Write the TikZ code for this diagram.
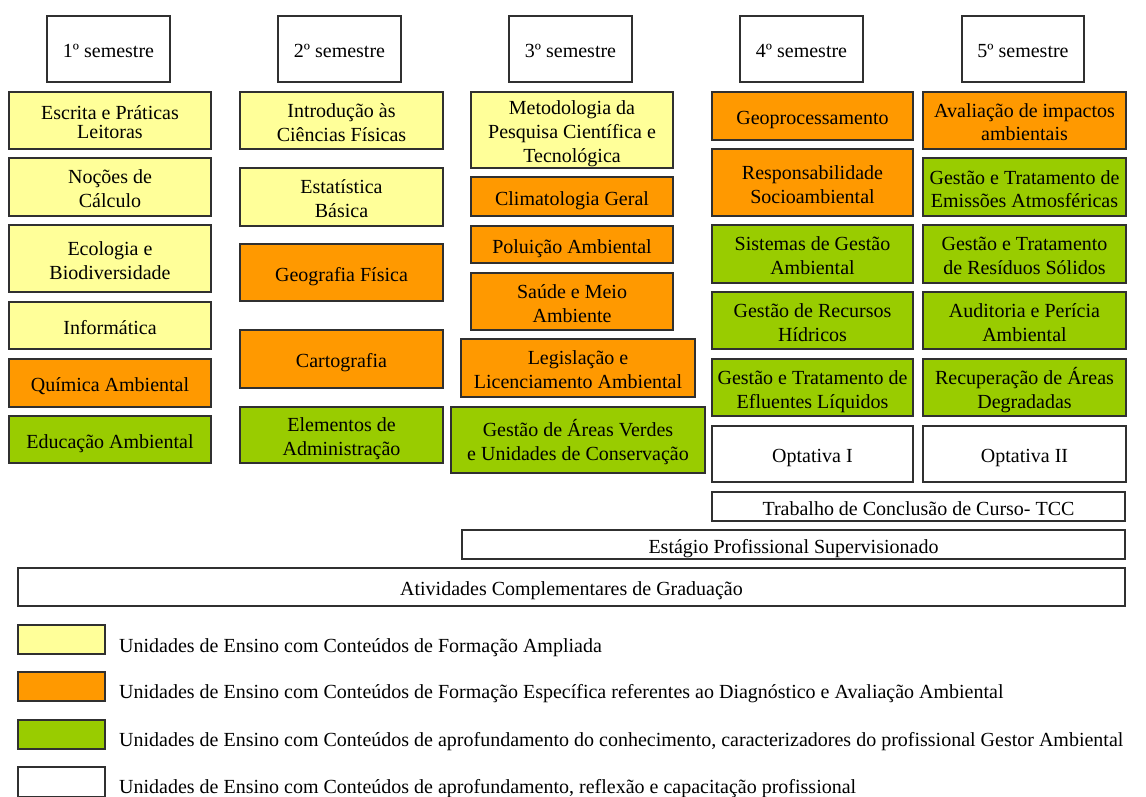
\documentclass[tikz,border=0pt]{standalone}
\usepackage{fontspec}
\setmainfont{Liberation Serif}
\definecolor{cyel}{HTML}{FFFF99}
\definecolor{corg}{HTML}{FF9900}
\definecolor{cgrn}{HTML}{99CC00}
\definecolor{cedge}{HTML}{303030}
\newcommand\bx[7]{\node[box,fill=#6,minimum width={#4-#2},minimum height={#5-#3}] (#1) at ({(#2+#4)/2},{(#3+#5)/2}) {\rule{0pt}{22.5pt}#7\rule[-5pt]{0pt}{5pt}};}
\begin{document}
\begin{tikzpicture}[x=1pt,y=-1pt,
  box/.style={draw=cedge,line width=1.3pt,rectangle,inner sep=0pt,align=center,font=\fontsize{20}{24}\selectfont},
  legtext/.style={anchor=base west,inner sep=0pt,font=\fontsize{20}{24}\selectfont}]
\useasboundingbox[fill=white] (0,0) rectangle (1146,796);
% headers
\bx{h1}{47}{16}{170}{82}{white}{1º semestre}
\bx{h2}{278}{16}{401}{82}{white}{2º semestre}
\bx{h3}{509}{16}{632}{82}{white}{3º semestre}
\bx{h4}{740}{16}{863}{82}{white}{4º semestre}
\bx{h5}{962}{16}{1084}{82}{white}{5º semestre}
% column 1
\bx{a1}{9}{92}{211}{149}{cyel}{Escrita e Práticas\\[-5pt]Leitoras}
\bx{a2}{9}{158}{211}{216}{cyel}{Noções de\\Cálculo}
\bx{a3}{9}{225}{211}{292}{cyel}{Ecologia e\\Biodiversidade}
\bx{a4}{9}{302}{211}{349}{cyel}{Informática}
\bx{a5}{9}{359}{211}{407}{corg}{Química Ambiental}
\bx{a6}{9}{416}{211}{463}{cgrn}{Educação Ambiental}
% column 2
\bx{b1}{240}{92}{443}{149}{cyel}{Introdução às\\Ciências Físicas}
\bx{b2}{240}{168}{443}{226}{cyel}{Estatística\\Básica}
\bx{b3}{240}{244}{443}{301}{corg}{Geografia Física}
\bx{b4}{240}{330}{443}{388}{corg}{Cartografia}
\bx{b5}{240}{407}{443}{463}{cgrn}{Elementos de\\Administração}
% column 3
\bx{c1}{471}{92}{673}{168}{cyel}{Metodologia da\\Pesquisa Científica e\\Tecnológica}
\bx{c2}{471}{177}{673}{216}{corg}{Climatologia Geral}
\bx{c3}{471}{226}{673}{263}{corg}{Poluição Ambiental}
\bx{c4}{471}{273}{673}{330}{corg}{Saúde e Meio\\Ambiente}
\bx{c5}{461}{339}{695}{397}{corg}{Legislação e\\Licenciamento Ambiental}
\bx{c6}{451}{407}{705}{473}{cgrn}{Gestão de Áreas Verdes\\e Unidades de Conservação}
% column 4
\bx{d1}{712}{92}{913}{140}{corg}{Geoprocessamento}
\bx{d2}{712}{149}{913}{216}{corg}{Responsabilidade\\Socioambiental}
\bx{d3}{712}{225}{913}{283}{cgrn}{Sistemas de Gestão\\Ambiental}
\bx{d4}{712}{292}{913}{349}{cgrn}{Gestão de Recursos\\Hídricos}
\bx{d5}{712}{359}{913}{416}{cgrn}{Gestão e Tratamento de\\Efluentes Líquidos}
\bx{d6}{712}{426}{913}{482}{white}{Optativa I}
% column 5
\bx{e1}{923}{92}{1126}{149}{corg}{Avaliação de impactos\\[-1pt]ambientais}
\bx{e2}{923}{158}{1126}{216}{cgrn}{Gestão e Tratamento de\\[-1pt]Emissões Atmosféricas}
\bx{e3}{923}{225}{1126}{283}{cgrn}{Gestão e Tratamento\\de Resíduos Sólidos}
\bx{e4}{923}{292}{1126}{349}{cgrn}{Auditoria e Perícia\\Ambiental}
\bx{e5}{923}{359}{1126}{416}{cgrn}{Recuperação de Áreas\\Degradadas}
\bx{e6}{923}{426}{1126}{482}{white}{Optativa II}
% wide bars
\bx{tcc}{712}{492}{1125}{521}{white}{Trabalho de Conclusão de Curso- TCC}
\bx{est}{462}{530}{1125}{559}{white}{Estágio Profissional Supervisionado}
\bx{atv}{18}{568}{1125}{606}{white}{Atividades Complementares de Graduação}
% legend
\bx{l1}{18}{625}{105}{654}{cyel}{}
\bx{l2}{18}{672}{105}{701}{corg}{}
\bx{l3}{18}{720}{105}{749}{cgrn}{}
\bx{l4}{18}{767}{105}{797}{white}{}
\node[legtext] (t1) at (119,652) {Unidades de Ensino com Conteúdos de Formação Ampliada};
\node[legtext] (t2) at (119,698) {Unidades de Ensino com Conteúdos de Formação Específica referentes ao Diagnóstico e Avaliação Ambiental};
\node[legtext] (t3) at (119,746) {Unidades de Ensino com Conteúdos de aprofundamento do conhecimento, caracterizadores do profissional Gestor Ambiental};
\node[legtext] (t4) at (119,793) {Unidades de Ensino com Conteúdos de aprofundamento, reflexão e capacitação profissional};
\end{tikzpicture}
\end{document}
